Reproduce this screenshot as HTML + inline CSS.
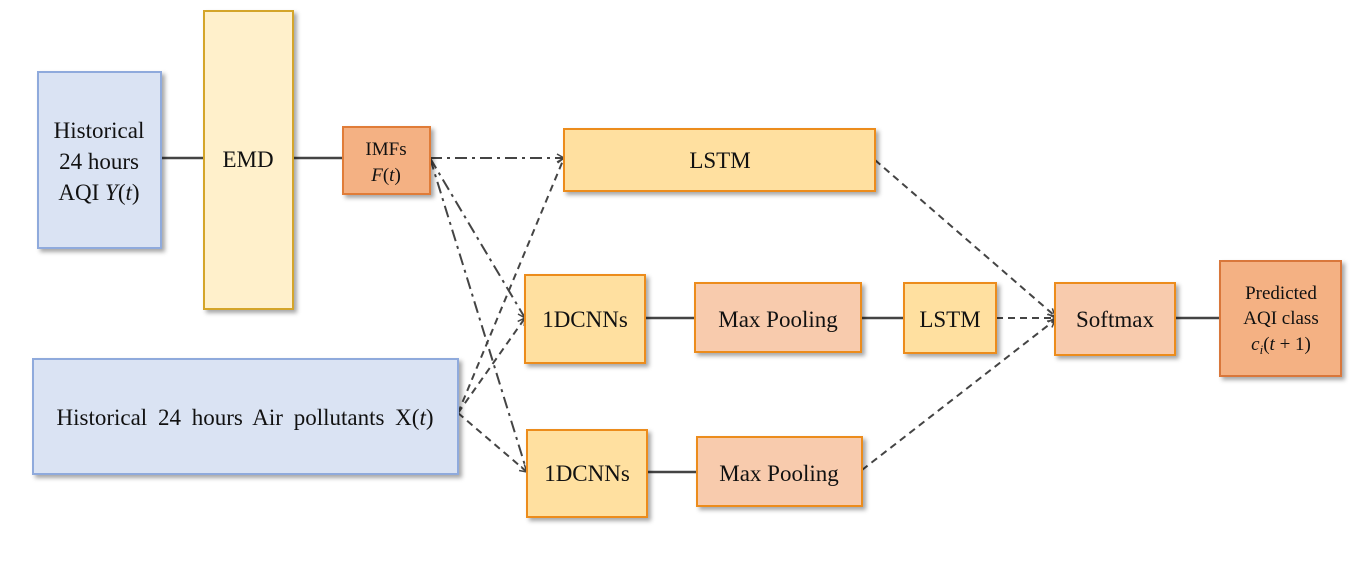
<!DOCTYPE html>
<html><head><meta charset="utf-8"><style>
body{margin:0;background:#fff;}
svg text{font-family:"Liberation Serif",serif;fill:#111;}
</style></head><body>
<svg width="1370" height="558" viewBox="0 0 1370 558" xmlns="http://www.w3.org/2000/svg">
<defs>
<filter id="sh" x="-10%" y="-10%" width="130%" height="130%"><feDropShadow dx="3" dy="3" stdDeviation="2" flood-color="#000" flood-opacity="0.35"/></filter>
<marker id="ar" markerWidth="10" markerHeight="10" refX="8" refY="5" orient="auto" markerUnits="userSpaceOnUse"><path d="M1,1 L8,5 L1,9" fill="none" stroke="#444" stroke-width="1.5"/></marker>
</defs>
<g stroke="#444" stroke-width="2.5" fill="none">
<line x1="161" y1="158" x2="204" y2="158"/>
<line x1="293" y1="158" x2="343" y2="158"/>
<line x1="645" y1="318" x2="695" y2="318"/>
<line x1="861" y1="318" x2="904" y2="318"/>
<line x1="1175" y1="318" x2="1220" y2="318"/>
<line x1="647" y1="472" x2="697" y2="472"/>
</g>
<g stroke="#444" stroke-width="2" fill="none" stroke-dasharray="12,5,3,5">
<line x1="430" y1="158" x2="564" y2="158" marker-end="url(#ar)"/>
<line x1="430" y1="158" x2="525" y2="318" marker-end="url(#ar)"/>
<line x1="430" y1="158" x2="527" y2="472" marker-end="url(#ar)"/>
</g>
<g stroke="#444" stroke-width="2" fill="none" stroke-dasharray="7,5">
<line x1="458" y1="413" x2="564" y2="158" marker-end="url(#ar)"/>
<line x1="458" y1="413" x2="525" y2="318" marker-end="url(#ar)"/>
<line x1="458" y1="413" x2="527" y2="472" marker-end="url(#ar)"/>
<line x1="996" y1="318" x2="1055" y2="318" marker-end="url(#ar)"/>
<line x1="875" y1="160" x2="1055" y2="316" marker-end="url(#ar)"/>
<line x1="862" y1="470" x2="1055" y2="320" marker-end="url(#ar)"/>
</g>
<g filter="url(#sh)" stroke-width="2">
<rect x="38" y="72" width="123" height="176" fill="#dae3f3" stroke="#8faadc"/>
<rect x="204" y="11" width="89" height="298" fill="#fff0cb" stroke="#d4a52a"/>
<rect x="343" y="127" width="87" height="67" fill="#f4b183" stroke="#e07b39"/>
<rect x="33" y="359" width="425" height="115" fill="#dae3f3" stroke="#8faadc"/>
<rect x="564" y="129" width="311" height="62" fill="#ffe0a0" stroke="#ec8c1e"/>
<rect x="525" y="275" width="120" height="88" fill="#ffe0a0" stroke="#ec8c1e"/>
<rect x="527" y="430" width="120" height="87" fill="#ffe0a0" stroke="#ec8c1e"/>
<rect x="695" y="283" width="166" height="69" fill="#f8cbad" stroke="#ec8c1e"/>
<rect x="697" y="437" width="165" height="69" fill="#f8cbad" stroke="#ec8c1e"/>
<rect x="904" y="283" width="92" height="70" fill="#ffe0a0" stroke="#ec8c1e"/>
<rect x="1055" y="283" width="120" height="72" fill="#f8cbad" stroke="#ec8c1e"/>
<rect x="1220" y="261" width="121" height="115" fill="#f4b183" stroke="#d9773a"/>
</g>
<g font-size="23" text-anchor="middle">
<text x="99" y="138">Historical</text>
<text x="99" y="169">24 hours</text>
<text x="99" y="200">AQI <tspan font-style="italic">Y</tspan>(<tspan font-style="italic">t</tspan>)</text>
<text x="248" y="167">EMD</text>
<text x="386" y="155" font-size="19">IMFs</text>
<text x="386" y="181" font-size="19"><tspan font-style="italic">F</tspan>(<tspan font-style="italic">t</tspan>)</text>
<text x="245" y="425" word-spacing="5">Historical 24 hours Air pollutants X(<tspan font-style="italic">t</tspan>)</text>
<text x="720" y="168">LSTM</text>
<text x="585" y="327">1DCNNs</text>
<text x="587" y="481">1DCNNs</text>
<text x="778" y="327">Max Pooling</text>
<text x="779" y="481">Max Pooling</text>
<text x="950" y="327">LSTM</text>
<text x="1115" y="327">Softmax</text>
<text x="1281" y="299" font-size="19">Predicted</text>
<text x="1281" y="324" font-size="19">AQI class</text>
<text x="1281" y="350" font-size="19"><tspan font-style="italic">c</tspan><tspan font-style="italic" font-size="13" dy="4">i</tspan><tspan dy="-4">(</tspan><tspan font-style="italic">t</tspan> + 1)</text>
</g>
</svg>
</body></html>
